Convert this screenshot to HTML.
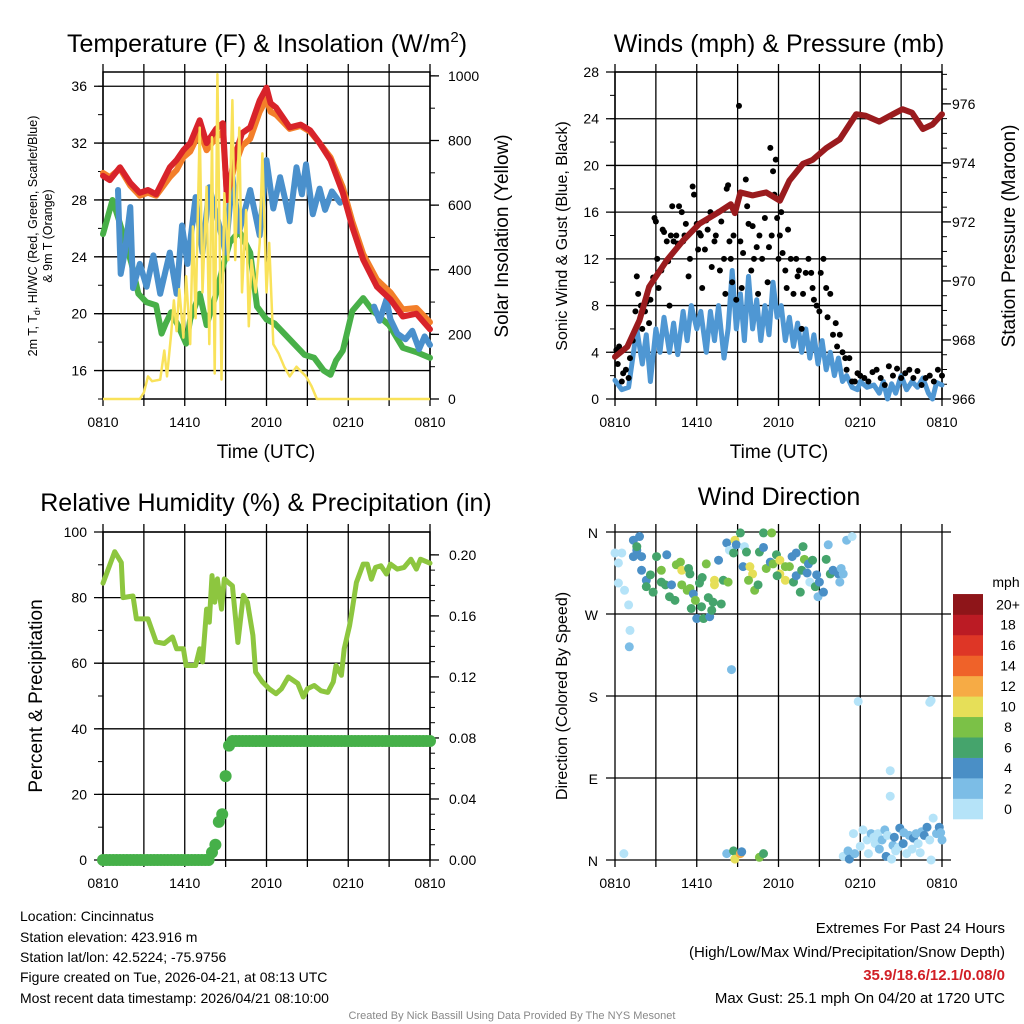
<!DOCTYPE html>
<html><head><meta charset="utf-8"><style>
html,body{margin:0;padding:0;background:#fff}
svg{display:block;font-family:"Liberation Sans",Arial,sans-serif}
</style></head><body>
<svg id="s" width="1024" height="1024" viewBox="0 0 1024 1024" xmlns="http://www.w3.org/2000/svg">
<rect width="1024" height="1024" fill="#fff"/>
<g id="g1"></g>
<g id="g2"></g>
<g id="g3"></g>
<g id="g4"></g>
<text x="267" y="52" font-size="25" text-anchor="middle">Temperature (F) &amp; Insolation (W/m<tspan font-size="15" dy="-10">2</tspan><tspan dy="10">)</tspan></text>
<text x="779" y="52" font-size="25" text-anchor="middle">Winds (mph) &amp; Pressure (mb)</text>
<text x="266" y="511" font-size="25" text-anchor="middle">Relative Humidity (%) &amp; Precipitation (in)</text>
<text x="779" y="505" font-size="25" text-anchor="middle">Wind Direction</text>
<text x="266" y="458" font-size="19" text-anchor="middle">Time (UTC)</text>
<text x="779" y="458" font-size="19" text-anchor="middle">Time (UTC)</text>
<text transform="translate(37,236) rotate(-90)" font-size="12.5" text-anchor="middle">2m T, T<tspan font-size="9" dy="3">d</tspan><tspan dy="-3">, HI/WC (Red, Green, Scarlet/Blue)</tspan></text>
<text transform="translate(52,236) rotate(-90)" font-size="12.5" text-anchor="middle">&amp; 9m T (Orange)</text>
<text transform="translate(508,236) rotate(-90)" font-size="19" text-anchor="middle">Solar Insolation (Yellow)</text>
<text transform="translate(567,236) rotate(-90)" font-size="16" text-anchor="middle">Sonic Wind &amp; Gust (Blue, Black)</text>
<text transform="translate(1015,236) rotate(-90)" font-size="19" text-anchor="middle">Station Pressure (Maroon)</text>
<text transform="translate(42,696) rotate(-90)" font-size="19" text-anchor="middle">Percent &amp; Precipitation</text>
<text transform="translate(567,696) rotate(-90)" font-size="16" text-anchor="middle">Direction (Colored By Speed)</text>
<g font-size="14">
<text x="20" y="921">Location: Cincinnatus</text>
<text x="20" y="942">Station elevation: 423.916 m</text>
<text x="20" y="962">Station lat/lon: 42.5224; -75.9756</text>
<text x="20" y="982">Figure created on Tue, 2026-04-21, at 08:13 UTC</text>
<text x="20" y="1003">Most recent data timestamp: 2026/04/21 08:10:00</text>
</g>
<g font-size="15" text-anchor="end">
<text x="1005" y="933">Extremes For Past 24 Hours</text>
<text x="1005" y="957">(High/Low/Max Wind/Precipitation/Snow Depth)</text>
<text x="1005" y="980" fill="#d11f26" font-weight="bold">35.9/18.6/12.1/0.08/0</text>
<text x="1005" y="1003">Max Gust: 25.1 mph On 04/20 at 1720 UTC</text>
</g>
<text x="512" y="1019" font-size="11" fill="#888" text-anchor="middle">Created By Nick Bassill Using Data Provided By The NYS Mesonet</text>
</svg>
<script>
// ---------- data ----------
const timeLabels=['0810','1410','2010','0210','0810'];
const redT=[0,0.5,1.25,2,2.7,3.3,3.9,4.9,5.4,5.9,6.4,7.1,7.6,8.3,8.8,9.1,9.6,10.2,10.8,11.5,12.0,12.3,12.7,13.2,13.7,14.5,15.2,15.9,16.7,17.6,18.3,19.1,20.1,21.1,22,23,24];
const redV=[29.7,29.4,30.3,29.2,28.5,28.7,28.4,30.3,30.8,31.5,32.0,33.6,32,33,33.4,28,30.8,32.7,33.1,35,35.9,34.8,34.5,33.8,33.1,33.3,32.9,32,30.8,28.5,26.1,23.8,21.9,21,19.8,20,18.9];
const orangeV=[29.9,29.6,30.2,29.0,28.3,28.5,28.3,29.6,30.1,31,31.4,32.8,31.5,32.4,32.8,28.3,30.2,31.8,32.3,34.2,35.1,34.2,34,33.5,33.0,33.2,32.8,32,31,28.9,26.5,24.2,22.4,21.5,20.3,20.4,19.4];
const greenT=[0,0.7,1.2,2.1,2.6,3.2,3.9,4.3,4.6,5.0,5.5,6.1,6.4,7.1,7.6,8.3,8.8,9.3,10.0,10.8,11.3,12.0,12.6,13.4,14.1,14.8,15.5,16.2,16.7,17.1,17.6,18.3,19.1,19.8,21,22,23,24];
const greenV=[25.6,28,26.5,23.5,21.4,20.8,20.6,18.6,19.3,20.1,19.2,17.9,19.6,21.4,19.2,21.4,23.3,25,25.8,24.3,20.5,19.6,19.3,18.5,17.8,17.1,16.9,16.0,15.7,16.7,17.4,20.2,21.1,20.2,19.2,17.6,17.3,16.9];
const blueT=[1.1,1.3,1.6,2.0,2.2,2.7,3.2,3.7,4.2,4.9,5.4,5.8,6.2,6.8,7.3,7.8,8.5,9.0,9.5,10.0,10.8,11.5,12.0,12.5,13.0,13.4,13.7,14.2,14.6,14.9,15.4,15.9,16.3,16.8,17.4,17.7,19.9,20.3,20.8,21.1,21.6,22.2,22.7,23.2,23.6,24];
const blueV=[28.7,22.8,24.3,27.5,21.8,23.5,21.9,24.1,21.4,24.3,21.4,26.2,23.5,28.2,24.3,28.9,26.3,24.3,29.6,25.8,28.7,25.5,30.8,27.4,29.6,27.9,26.5,30.3,28.4,30.5,27,28.8,27.3,28.6,27.8,null,20.5,19.5,21,19.6,18.6,18.2,18.8,17.5,18.4,17.8];
const solarT=[0,2.7,3.0,3.3,3.6,4.2,4.5,4.7,5.0,5.2,5.4,5.6,5.9,6.1,6.4,6.6,6.8,7.1,7.3,7.6,7.8,8.0,8.2,8.4,8.7,8.9,9.2,9.5,9.7,10.0,10.2,10.5,10.7,10.9,11.2,11.5,11.7,12.0,12.2,12.5,12.9,13.3,13.7,14.2,14.9,15.3,15.7,24];
const solarV=[0,0,20,70,55,60,150,70,200,305,210,340,190,380,170,534,250,840,330,657,170,810,79,1005,60,637,430,925,430,840,330,585,225,430,330,483,760,330,483,170,140,100,70,100,70,40,0,0];
const presT=[0,0.9,1.8,2.5,3.8,5,6.2,7.5,8.5,8.8,9.2,10.1,11.1,12.1,12.8,13.8,14.5,15.5,16.5,17.7,18.4,19.4,20.4,21.1,21.8,22.6,23.3,24];
const presV=[967.43,967.77,968.67,969.8,970.7,971.37,971.94,972.3,972.6,972.3,973.0,972.9,973.0,972.72,973.4,973.97,974.1,974.5,974.8,975.65,975.6,975.4,975.65,975.82,975.7,975.15,975.3,975.65];
const windT=[0,0.5,1,1.3,1.6,2.0,2.3,2.6,3,3.3,3.6,4,4.3,4.6,5,5.3,5.6,6,6.3,6.7,7,7.3,7.6,8,8.3,8.6,8.9,9.2,9.5,9.8,10.1,10.4,10.7,11,11.3,11.6,11.9,12.2,12.5,12.8,13.1,13.4,13.7,14,14.3,14.6,14.9,15.2,15.5,15.8,16.1,16.4,16.7,17,17.4,17.8,18,18.5,19,19.4,19.7,20,20.3,20.6,21,21.4,21.8,22.2,22.6,23,23.3,23.6,24];
const windV=[1.6,0.8,1.0,3.5,6,3,5.5,1.5,6,4,7,4,6.5,3.8,7.5,5,8,6,7.5,4,7.5,5,8,3.5,6,11,6,9,5,10.5,6,8.5,5,8,5.5,10,7,8,5,7,4.5,6.5,4,6,3.5,5.5,3,5,2.5,4,2,3.5,1.5,2,1,0.8,1.5,1,1.2,0.5,1.5,0,1.3,0.5,2,0.8,1.5,1,1.8,0.5,0,1.4,1.2];
const gustT=[0.1,0.2,0.3,0.5,0.6,0.8,1.0,1.1,1.3,1.5,1.6,1.7,1.9,2.0,2.1,2.2,2.3,2.5,2.6,2.8,2.9,3.0,3.1,3.2,3.4,3.5,3.6,3.8,3.9,4.0,4.1,4.2,4.3,4.5,4.6,4.7,4.9,5.0,5.1,5.2,5.4,5.5,5.7,5.8,6.0,6.1,6.2,6.3,6.4,6.6,6.7,6.8,7.0,7.1,7.3,7.4,7.6,7.7,7.8,8.0,8.1,8.2,8.3,8.4,8.5,8.6,8.7,8.9,9.1,9.2,9.3,9.4,9.6,9.7,9.8,10.0,10.1,10.2,10.4,10.5,10.6,10.8,11.0,11.2,11.3,11.4,11.5,11.6,11.7,11.8,11.9,12.0,12.1,12.2,12.3,12.5,12.6,12.7,12.9,13.1,13.3,13.4,13.5,13.7,13.8,14.0,14.2,14.4,14.5,14.6,14.8,15.0,15.1,15.3,15.5,15.6,15.8,16.0,16.2,16.3,16.5,16.7,16.9,17.0,17.2,17.4,17.6,17.8,18.0,18.3,18.6,18.9,19.2,19.5,19.8,20.1,20.4,20.7,21.0,21.3,21.6,21.9,22.2,22.5,22.8,23.1,23.4,23.7,24.0];
const gustV=[4.2,3,4.5,1.5,2.2,2.5,1.8,3.5,5,7.5,10.5,9,8,6,8,7.5,8.3,6.5,8.5,10.4,15.5,15.2,12,9.5,11,14.5,14.3,13.5,11.8,8,14,16.5,13.5,14,13.3,16.5,16,13.5,14,15,10.5,12,18.2,17.5,15,12.8,14.2,14,9.5,12.8,15.3,14.5,16,11.3,13.5,14,16,11,15.2,12,9,18,18.3,13.5,12,10,14,8.5,25.1,13.5,9.5,12.5,18.8,16.5,15,11,14.8,12,13,9,14,12,15.5,10,13,21.5,14,19.5,17.5,20.5,15.5,12,14,16,12.5,11,9.5,14.5,12,9,12,10.5,11,6,9,10.8,12,10.8,9.5,8.5,8,7.5,10.8,12,9.5,7,9,5.5,6.5,4.5,5.5,4,3.5,2.5,3.5,1.5,1.5,2.2,2,1.8,1.5,2.3,2.5,1.8,1.2,2.8,2,2.6,1.8,2.2,2.5,1.8,2.4,1.2,1.8,2,1.5,2.5,2];
const rhT=[0,0.86,1.34,1.47,2.2,2.45,3.3,3.9,4.5,5.1,5.4,5.9,6.1,6.8,7.1,7.3,7.6,7.8,8.0,8.2,8.4,8.7,8.9,9.2,9.5,9.9,10.3,10.6,11.0,11.2,11.7,12.2,12.7,13.1,13.6,14.3,14.7,15.0,15.5,16.0,16.5,16.9,17.1,17.5,17.7,18.1,18.3,18.6,19.1,19.4,19.7,20.0,20.4,20.8,21.1,21.6,22.1,22.6,23.0,23.3,24];
const rhV=[84.4,94,90.7,80,80.5,73.5,73.5,66.5,66,68,64.4,64.4,59.3,59.3,64.4,60.4,76.5,72.5,86.7,78.6,85.7,76.5,85.7,84.6,83.6,66.3,80.7,78.6,68.5,57.3,54.3,52.2,50.7,52.2,55.8,53.8,49.7,52.2,53.2,51.6,51.1,54.3,59.3,56.3,64.4,71.5,76.5,84.6,90.2,90.2,85.6,89.2,89.7,87.2,90.2,88.7,89.2,91.7,88.7,91.7,90.5];
const precipV=[0,0,0,0,0,0,0,0,0,0,0,0,0,0,0,0,0,0,0,0,0,0,0,0,0,0,0,0,0,0,0,0,0.005,0.01,0.025,0.03,0.055,0.075,0.078,0.078,0.078,0.078,0.078,0.078,0.078,0.078,0.078,0.078,0.078,0.078,0.078,0.078,0.078,0.078,0.078,0.078,0.078,0.078,0.078,0.078,0.078,0.078,0.078,0.078,0.078,0.078,0.078,0.078,0.078,0.078,0.078,0.078,0.078,0.078,0.078,0.078,0.078,0.078,0.078,0.078,0.078,0.078,0.078,0.078,0.078,0.078,0.078,0.078,0.078,0.078,0.078,0.078,0.078,0.078,0.078,0.078,0.078];
const dirT=[0,0.5,0.25,0.25,0.7,1.0,1.1,1.05,1.35,1.8,1.6,1.6,1.35,1.95,1.95,2.3,2.6,2.3,2.8,3.05,3.4,3.4,3.8,3.7,4.15,4.0,4.4,4.5,4.8,4.9,4.9,5.4,5.5,5.3,5.5,5.75,5.6,5.9,6.0,6.2,6.35,6.5,6.7,6.4,6.85,6.95,7.1,7.2,7.3,7.3,7.6,7.8,7.95,8.3,8.2,8.4,8.7,8.8,8.9,9.2,8.55,9.5,9.65,9.4,9.9,10.1,9.8,10.25,10.5,10.6,10.9,10.9,11.5,11.1,11.4,11.85,11.6,12.1,12.1,11.9,12.5,12.5,12.8,13.0,13.3,13.1,13.3,13.6,13.7,13.9,13.8,14.2,14.1,14.3,14.5,14.7,14.8,15.0,14.9,15.3,15.5,15.65,15.8,16.0,16.4,16.5,16.6,16.75,17.0,17.4,17.85,8.2,8.7,8.8,9.2,9.3,10.6,10.9,0.65,16.75,17.1,17.2,17.5,17.6,18.2,18.5,18.6,18.8,19.1,19.3,19.6,19.8,19.9,20.0,20.3,20.4,20.5,20.8,20.9,21.15,21.4,21.6,21.9,22.1,22.25,22.5,22.7,22.9,23.1,23.2,23.35,23.6,23.8,24,20.2,20.2,23.1,23.2,19.0,20.6,21.8,22.4,18.0,19.4,21.2,23.9];
const dirD=[337,337,326,304,296,280,252,234,351,355,340,344,333,333,318,307,313,300,294,333,318,305,335,302,302,289,285,324,327,318,302,320,314,296,298,292,276,285,265,304,278,265,325,310,288,267,274,283,307,302,329,281,307,305,348,340,337,351,346,359,209,344,338,322,322,314,307,296,302,338,343,359,359,320,327,335,325,329,314,312,322,307,322,333,337,305,312,294,318,330,344,325,315,305,329,300,313,305,289,294,330,346,314,318,314,305,320,314,351,355,174,7,10,1,7,9,3,7,7,4,10,1,29,7,33,22,7,29,18,29,22,33,4,27,1,16,25,14,35,18,7,27,24,29,18,31,27,36,22,0,46,29,36,22,70,98,173,175,25,10,12,8,15,12,30,30];
const dirS=[1,1,1,1,1,1,1,3,5,5,5,7,5,5,5,5,7,7,7,7,9,7,5,7,5,7,7,9,9,11,9,7,7,9,9,5,7,9,5,7,7,7,9,7,7,5,7,7,11,11,5,7,7,9,5,1,7,11,5,7,3,1,7,5,11,11,9,9,7,7,5,7,9,9,5,7,9,11,11,7,9,11,9,5,5,7,5,7,7,9,7,5,5,1,7,7,5,5,3,5,7,3,7,5,5,3,3,3,3,1,1,3,7,11,13,5,9,7,1,1,3,5,1,3,1,1,1,3,1,1,3,3,5,1,1,3,5,1,5,5,1,3,5,3,1,3,5,5,1,1,1,3,5,3,1,1,1,1,1,1,1,1,1,2,2,3];
const binColors=['#b5e3f8','#7cbde6','#4a8fc6','#45a46c','#7bc147','#e6df58','#f6ab45','#ef6229','#de3626','#bb1b24','#8e1519'];
const binLabels=['0','2','4','6','8','10','12','14','16','18','20+'];

// ---------- helpers ----------
const NS='http://www.w3.org/2000/svg';
function mk(parent,tag,attrs,name,inter){
  const e=document.createElementNS(NS,tag);
  for(const k in attrs)e.setAttribute(k,attrs[k]);
  
  
  parent.appendChild(e);return e;
}
function txt(parent,x,y,s,anchor,size,name){
  const t=mk(parent,'text',{x:x,y:y,'text-anchor':anchor,'font-size':size},name,false);
  t.textContent=s;return t;
}
function linePath(T,V,X,Y){
  let d='',pen=false;
  for(let i=0;i<T.length;i++){
    if(V[i]===null||V[i]===undefined){pen=false;continue;}
    d+=(pen?'L':'M')+X(T[i]).toFixed(1)+','+Y(V[i]).toFixed(1);pen=true;
  }
  return d;
}
function frame(g,P){
  const X=t=>P.x0+t*(P.x1-P.x0)/24;
  for(let h=0;h<=24;h+=3){
    mk(g,'line',{x1:X(h),x2:X(h),y1:P.y0-8,y2:P.y1+7,stroke:'#000','stroke-width':1.3},'time-gridline',false);
  }
  for(let i=0;i<timeLabels.length;i++){
    txt(g,X(i*6),P.y1+28,timeLabels[i],'middle',14,'time-tick-label');
  }
  return X;
}
function box(g,P){
  mk(g,'rect',{x:P.x0,y:P.y0,width:P.x1-P.x0,height:P.y1-P.y0,fill:'none',stroke:'#000','stroke-width':1.5},'plot-frame',false);
}
function leftAxis(g,P,lo,hi,majors,minors,labels){
  const Y=v=>P.y1-(v-lo)*(P.y1-P.y0)/(hi-lo);
  minors.forEach(v=>mk(g,'line',{x1:P.x0-5,x2:P.x0,y1:Y(v),y2:Y(v),stroke:'#000','stroke-width':1},'left-minor-tick',false));
  majors.forEach((v,i)=>{
    mk(g,'line',{x1:P.x0-9,x2:P.x1,y1:Y(v),y2:Y(v),stroke:'#000','stroke-width':1.3},'horizontal-gridline',false);
    txt(g,P.x0-16,Y(v)+5,labels[i],'end',14,'left-tick-label');
  });
  return Y;
}
function rightAxis(g,P,lo,hi,majors,minors,labels,gap){
  const Y=v=>P.y1-(v-lo)*(P.y1-P.y0)/(hi-lo);
  minors.forEach(v=>mk(g,'line',{x1:P.x1,x2:P.x1+5,y1:Y(v),y2:Y(v),stroke:'#000','stroke-width':1},'right-minor-tick',false));
  majors.forEach((v,i)=>{
    mk(g,'line',{x1:P.x1,x2:P.x1+9,y1:Y(v),y2:Y(v),stroke:'#000','stroke-width':1.3},'right-major-tick',false);
    txt(g,P.x1+gap,Y(v)+5,labels[i],'start',14,'right-tick-label');
  });
  return Y;
}
function rng(a,b,s){const r=[];for(let v=a;v<=b+1e-9;v+=s)r.push(+v.toFixed(4));return r;}

// ---------- panel 1 ----------
{
const g=document.getElementById('g1');
const P={x0:103,x1:430,y0:72,y1:399};
const X=frame(g,P);
const Y=leftAxis(g,P,14,37,[16,20,24,28,32,36],rng(14,36,2),['16','20','24','28','32','36']);
const YS=rightAxis(g,P,0,1012,[0,200,400,600,800,1000],rng(0,1000,100),['0','200','400','600','800','1000'],18);
box(g,P);
mk(g,'path',{d:linePath(greenT,greenV,X,Y),fill:'none',stroke:'#48b048','stroke-width':6,'stroke-linejoin':'round','stroke-linecap':'round'},'dewpoint-line',false);
mk(g,'path',{d:linePath(blueT,blueV,X,Y),fill:'none',stroke:'#4a90cc','stroke-width':6,'stroke-linejoin':'round','stroke-linecap':'round'},'windchill-line',false);
mk(g,'path',{d:linePath(redT,orangeV,X,Y),fill:'none',stroke:'#f37f2a','stroke-width':6,'stroke-linejoin':'round','stroke-linecap':'round'},'temp-9m-line',false);
mk(g,'path',{d:linePath(redT,redV,X,Y),fill:'none',stroke:'#d8232a','stroke-width':6,'stroke-linejoin':'round','stroke-linecap':'round'},'temp-2m-line',false);
mk(g,'path',{d:linePath(solarT,solarV,X,YS),fill:'none',stroke:'#f9e25a','stroke-width':2.5,'stroke-linejoin':'round'},'insolation-line',false);
}
// ---------- panel 2 ----------
{
const g=document.getElementById('g2');
const P={x0:615,x1:942,y0:72,y1:399};
const X=frame(g,P);
const Y=leftAxis(g,P,0,28,rng(0,28,4),rng(0,28,2),['0','4','8','12','16','20','24','28']);
const YP=rightAxis(g,P,966,977.08,[966,968,970,972,974,976],rng(966,977,0.5),['966','968','970','972','974','976'],10);
box(g,P);
mk(g,'path',{d:linePath(windT,windV,X,Y),fill:'none',stroke:'#4f97d3','stroke-width':5,'stroke-linejoin':'round','stroke-linecap':'round'},'sonic-wind-line',false);
for(let i=0;i<gustT.length;i++){
  mk(g,'circle',{cx:X(gustT[i]),cy:Y(gustV[i]),r:3,fill:'#000'},'gust-point',false);
}
mk(g,'path',{d:linePath(presT,presV,X,YP),fill:'none',stroke:'#9a1b1e','stroke-width':6,'stroke-linejoin':'round','stroke-linecap':'round'},'pressure-line',false);
}
// ---------- panel 3 ----------
{
const g=document.getElementById('g3');
const P={x0:103,x1:430,y0:532,y1:860};
const X=frame(g,P);
const Y=leftAxis(g,P,0,100,rng(0,100,20),rng(0,100,10),['0','20','40','60','80','100']);
const YR=rightAxis(g,P,0,0.215,rng(0,0.2,0.04),rng(0,0.2,0.01),['0.00','0.04','0.08','0.12','0.16','0.20'],19);
box(g,P);
mk(g,'path',{d:linePath(rhT,rhV,X,Y),fill:'none',stroke:'#8dc63f','stroke-width':5,'stroke-linejoin':'round','stroke-linecap':'round'},'humidity-line',false);
for(let i=0;i<precipV.length;i++){
  mk(g,'circle',{cx:X(i*0.25),cy:YR(precipV[i]),r:6,fill:'#46b049'},'precip-point',false);
}
}
// ---------- panel 4 ----------
{
const g=document.getElementById('g4');
const P={x0:615,x1:942,y0:532,y1:860};
const X=frame(g,P);
const Y=v=>P.y1-v*(P.y1-P.y0)/360;
const dl=['N','E','S','W','N'];
[0,90,180,270,360].forEach((v,i)=>{
  mk(g,'line',{x1:P.x0-9,x2:P.x1+9,y1:Y(v),y2:Y(v),stroke:'#000','stroke-width':1.3},'direction-gridline',false);
  txt(g,P.x0-17,Y(v)+6,dl[i],'end',14,'direction-tick-label');
});
for(let i=0;i<dirT.length;i++){
  const b=Math.min(10,Math.floor(dirS[i]/2));
  mk(g,'circle',{cx:X(dirT[i]),cy:Y(dirD[i]),r:4.5,fill:binColors[b]},'direction-point',false);
}
const cb=mk(g,'g',{},'speed-colorbar',false);
const bh=20.45;
for(let i=0;i<binColors.length;i++){
  const yTop=819-(i+1)*bh;
  mk(cb,'rect',{x:953,y:yTop,width:30,height:bh+0.3,fill:binColors[i]},'colorbar-bin',false);
  txt(cb,1008,yTop+bh/2+5,binLabels[i],'middle',14,'colorbar-label');
}
txt(cb,1006,587,'mph','middle',14,'colorbar-title');
}
</script>
</body></html>
